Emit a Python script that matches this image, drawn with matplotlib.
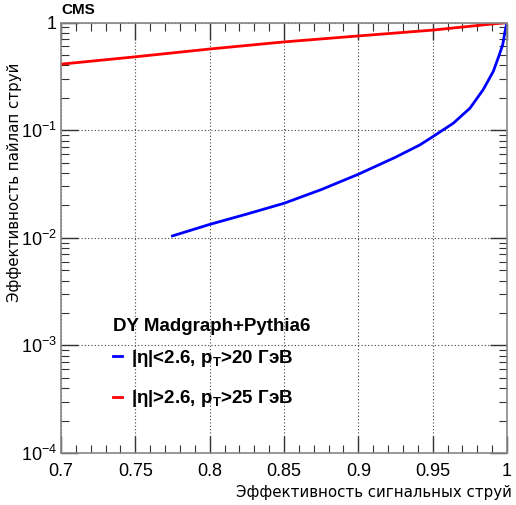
import numpy as np
import matplotlib
matplotlib.use('Agg')
import matplotlib.pyplot as plt
from matplotlib.ticker import FuncFormatter, LogLocator, MultipleLocator
from matplotlib.lines import Line2D

plt.rcParams['font.family'] = ['Liberation Sans', 'DejaVu Sans']
plt.rcParams['mathtext.fontset'] = 'custom'
plt.rcParams['mathtext.rm'] = 'Liberation Sans'
plt.rcParams['mathtext.bf'] = 'Liberation Sans:bold'
plt.rcParams['mathtext.it'] = 'Liberation Sans:italic'

# signal efficiency vs pileup-jet efficiency, central jets
sig_eff_central = [0.775, 0.80, 0.825, 0.85, 0.875, 0.90, 0.925, 0.9415, 0.9504,
                   0.9639, 0.9751, 0.984, 0.9908, 0.9948, 0.9971, 0.9987, 1.0]
pu_eff_central = [0.0104, 0.0133, 0.0166, 0.0209, 0.028, 0.0389, 0.056, 0.073, 0.0875,
                  0.116, 0.160, 0.238, 0.352, 0.50, 0.62, 0.83, 1.0]

# forward jets
sig_eff_forward = [0.70, 0.75, 0.80, 0.85, 0.90, 0.95, 1.0]
pu_eff_forward = [0.41, 0.48, 0.567, 0.66, 0.75, 0.85, 1.0]

sample_name = 'DY Madgraph+Pythia6'
label_central = r'|η|<2.6, p$_{\mathbf{T}}$>20 ГэВ'
label_forward = r'|η|>2.6, p$_{\mathbf{T}}$>25 ГэВ'

W, H = 516, 505
fig = plt.figure(figsize=(W / 100, H / 100), dpi=100)
ax = fig.add_axes([61 / W, 1 - 453 / H, (507 - 61) / W, (453 - 22.5) / H])

ax.plot(sig_eff_central, pu_eff_central, color='#0000ff', lw=2.0)
ax.plot(sig_eff_forward, pu_eff_forward, color='#ff0000', lw=2.0)

ax.set_yscale('log')
ax.set_xlim(0.7, 1.0)
ax.set_ylim(1e-4, 1)

ax.xaxis.set_major_locator(MultipleLocator(0.05))
ax.xaxis.set_minor_locator(MultipleLocator(0.01))
ax.yaxis.set_major_locator(LogLocator(base=10, numticks=10))
ax.yaxis.set_minor_locator(LogLocator(base=10, subs=np.arange(2, 10), numticks=10))

def fmt_x(v, pos):
    return ('%.2f' % v).rstrip('0').rstrip('.')

def fmt_y(v, pos):
    e = int(round(np.log10(v)))
    if e == 0:
        return '1'
    return r'$\mathregular{10^{%d}}$' % e

ax.xaxis.set_major_formatter(FuncFormatter(fmt_x))
ax.yaxis.set_major_formatter(FuncFormatter(fmt_y))

ax.tick_params(which='both', direction='in', top=True, right=True, color='#333333')
ax.tick_params(which='major', length=12, width=1.0, labelsize=13)
ax.tick_params(which='minor', length=6, width=0.8)
ax.tick_params(axis='x', which='major', pad=7)
ax.tick_params(axis='y', which='major', pad=3)

for sp in ax.spines.values():
    sp.set_color('#888888')
    sp.set_linewidth(1.2)

ax.grid(which='major', color='#444444', linestyle=(0, (1, 2)), linewidth=0.8)

# axis titles
fig.text(512 / W, 1 - 492 / H, 'Эффективность сигнальных струй',
         family='DejaVu Sans', fontsize=10.8, ha='right', va='center')
fig.text(15 / W, 1 - 63 / H, 'Эффективность пайлап струй',
         family='DejaVu Sans', fontsize=10.8, rotation=90, ha='center', va='top')

fig.text(61 / W, 1 - 10 / H, 'CMS', fontsize=11, fontweight='bold', va='center', ha='left')

ax.text(0.1166, 0.2927, sample_name, transform=ax.transAxes,
        fontsize=13.5, fontweight='bold', ha='left', va='center')

handles = [Line2D([], [], color='#0000ff', lw=2.0),
           Line2D([], [], color='#ff0000', lw=2.0)]
leg = ax.legend(handles, [label_central, label_forward],
                loc='upper left', bbox_to_anchor=(0.1166, 0.245), frameon=False,
                handlelength=0.5, handletextpad=0.45, labelspacing=1.05,
                prop={'weight': 'bold', 'size': 13.5},
                borderpad=0, borderaxespad=0)

fig.savefig('out.png', dpi=100)
